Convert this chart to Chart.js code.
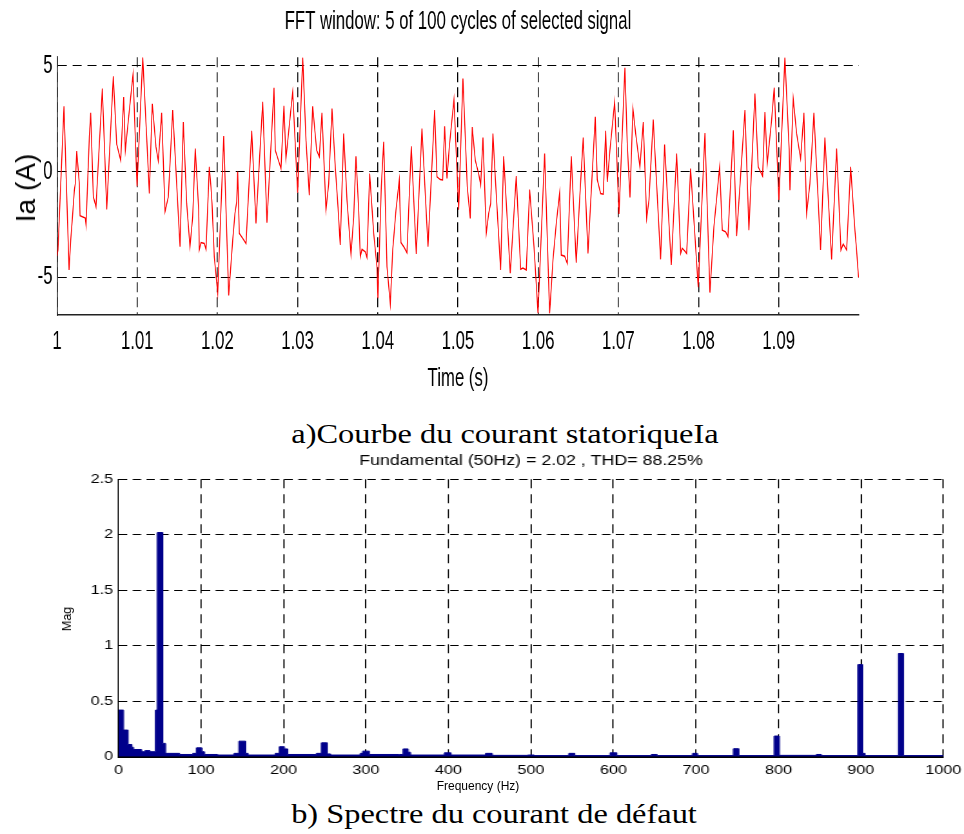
<!DOCTYPE html>
<html>
<head>
<meta charset="utf-8">
<script src="https://cdn.jsdelivr.net/npm/chart.js@4.4.1/dist/chart.umd.min.js"></script>
<style>
  html, body { margin: 0; padding: 0; background: #fff; }
  #page { position: relative; width: 964px; height: 834px; overflow: hidden; background: #fff; }
  canvas { position: absolute; left: 0; }
  .legende { position: absolute; width: 964px; text-align: center; line-height: 30px;
             font-family: "Liberation Serif", "Times New Roman", serif; font-size: 27px; color: #000;
             transform: scaleX(1.2); transform-origin: 50% 50%; white-space: nowrap; }
  .titre-y { position: absolute; white-space: nowrap; color: #000;
             font-family: "Liberation Sans", Arial, sans-serif;
             transform: translate(-50%, -50%) rotate(-90deg); }
  .titre-x { position: absolute; white-space: nowrap; color: #000;
             font-family: "Liberation Sans", Arial, sans-serif;
             transform: translate(-50%, -50%); }
</style>
</head>
<body>
<div id="page">
  <canvas id="courant" width="1495" height="400" style="top:0px;width:964px;height:400px"></canvas>
  <div class="titre-y" style="left:26px;top:188px;font-size:28px">Ia (A)</div>
  <div class="legende" style="left:23px;top:419px">a)Courbe du courant statoriqueIa</div>
  <canvas id="spectre" width="803" height="350" style="top:448px;width:964px;height:350px"></canvas>
  <div class="titre-y" style="left:67px;top:619px;font-size:12.5px">Mag</div>
  <div class="titre-x" style="left:478px;top:786px;font-size:12px">Frequency (Hz)</div>
  <div class="legende" style="left:12px;top:799px">b) Spectre du courant de défaut</div>
</div>
<script>
const tempsS = [
  1.00000, 1.00012, 1.00087, 1.00150, 1.00171, 1.00196, 1.00216, 1.00228, 1.00246, 1.00278,
  1.00287, 1.00353, 1.00362, 1.00403, 1.00420, 1.00453, 1.00486, 1.00565, 1.00620, 1.00702,
  1.00744, 1.00794, 1.00832, 1.00852, 1.00898, 1.00948, 1.00998, 1.01069, 1.01118, 1.01151,
  1.01188, 1.01234, 1.01263, 1.01305, 1.01347, 1.01388, 1.01443, 1.01534, 1.01575, 1.01617,
  1.01658, 1.01692, 1.01724, 1.01767, 1.01774, 1.01796, 1.01837, 1.01858, 1.01899, 1.01920,
  1.01933, 1.01961, 1.02004, 1.02079, 1.02141, 1.02191, 1.02219, 1.02241, 1.02253, 1.02273,
  1.02315, 1.02357, 1.02428, 1.02481, 1.02565, 1.02618, 1.02706, 1.02722, 1.02793, 1.02830,
  1.02855, 1.02939, 1.03001, 1.03064, 1.03105, 1.03146, 1.03188, 1.03238, 1.03271, 1.03304,
  1.03354, 1.03388, 1.03429, 1.03470, 1.03504, 1.03532, 1.03575, 1.03616, 1.03666, 1.03700,
  1.03728, 1.03762, 1.03782, 1.03803, 1.03844, 1.03865, 1.03899, 1.03949, 1.03990, 1.04002,
  1.04044, 1.04074, 1.04115, 1.04156, 1.04186, 1.04227, 1.04268, 1.04289, 1.04323, 1.04364,
  1.04418, 1.04480, 1.04551, 1.04626, 1.04709, 1.04738, 1.04779, 1.04809, 1.04834, 1.04863,
  1.04892, 1.04950, 1.05009, 1.05062, 1.05116, 1.05153, 1.05178, 1.05216, 1.05258, 1.05283,
  1.05312, 1.05353, 1.05383, 1.05408, 1.05436, 1.05465, 1.05532, 1.05570, 1.05652, 1.05727,
  1.05782, 1.05810, 1.05852, 1.05894, 1.05948, 1.05976, 1.05998, 1.06081, 1.06143, 1.06185,
  1.06226, 1.06268, 1.06288, 1.06330, 1.06363, 1.06413, 1.06475, 1.06517, 1.06562, 1.06621,
  1.06712, 1.06737, 1.06779, 1.06812, 1.06842, 1.06862, 1.06895, 1.06954, 1.07008, 1.07082,
  1.07111, 1.07145, 1.07182, 1.07216, 1.07269, 1.07311, 1.07353, 1.07382, 1.07435, 1.07527,
  1.07577, 1.07660, 1.07727, 1.07777, 1.07797, 1.07818, 1.07852, 1.07901, 1.07996, 1.08080,
  1.08142, 1.08192, 1.08263, 1.08296, 1.08338, 1.08367, 1.08433, 1.08475, 1.08579, 1.08628,
  1.08703, 1.08744, 1.08799, 1.08828, 1.08857, 1.08911, 1.08944, 1.09002, 1.09077, 1.09131,
  1.09140, 1.09181, 1.09223, 1.09273, 1.09314, 1.09348, 1.09389, 1.09439, 1.09522, 1.09576,
  1.09660, 1.09722, 1.09776, 1.09804, 1.09847, 1.09897, 1.09950, 1.09971, 1.09995
];
const courantA = [
  -4.0, -3.7, 3.08, -4.65, -3.24, -1.98, -0.88, -0.57, 0.96, -0.57,
  -2.09, -2.2, -2.53, 1.64, 2.77, -1.2, -1.67, 3.92, -1.79, 4.5,
  1.3, 0.53, 3.52, 1.0, 2.74, 4.6, -0.69, 5.4, 1.64, -1.04,
  3.2, 1.16, 0.5, 2.77, -1.9, -1.2, 2.9, -3.55, 2.34, -1.51,
  -3.55, -2.14, 1.08, -1.82, -3.7, -3.36, -3.4, -3.68, 0.22, -0.72,
  -1.51, -4.03, -5.75, 1.67, -5.86, -3.24, -1.98, -1.42, 0.0, -2.92,
  -3.15, -3.4, 1.92, -2.45, 3.29, -2.42, 3.95, 1.0, 0.14, 3.1,
  0.61, 3.76, -1.0, 5.38, 1.48, -1.12, 3.08, 1.0, 0.7, 2.77,
  -1.82, -0.57, 2.97, 0.22, -1.67, -3.47, 1.79, -1.35, -3.9, -2.14,
  0.72, -1.82, -4.03, -3.68, -3.79, -4.06, -0.1, -2.92, -4.5, -5.99,
  -0.72, 1.4, -4.5, -6.26, -3.74, -1.82, -0.41, -3.36, -3.55, -3.84,
  1.19, -3.9, 2.03, -3.55, 2.9, -0.25, -0.38, -0.4, 2.14, -0.33,
  1.16, 3.4, -1.8, 4.39, -0.72, -2.22, 2.1, 0.53, -0.1, -0.64,
  1.6, -2.92, -1.98, -1.51, 1.79, -0.25, -4.65, 0.72, -4.81, -0.22,
  -4.62, -4.56, -4.65, -0.85, -3.55, -5.28, -6.7, 0.85, -6.7, -4.18,
  -2.45, -1.0, -3.95, -4.0, -4.34, 0.72, -4.31, -1.35, 1.6, -3.87,
  2.58, -0.38, -1.04, -1.07, 1.92, -0.49, 1.0, 3.29, -2.01, 4.9,
  1.32, -1.23, 2.97, 1.79, 0.22, 2.34, -2.22, -1.35, 2.45, -4.15,
  1.27, -4.42, 0.85, -3.87, -3.63, -3.71, -3.87, 0.14, -5.47, 1.82,
  -5.72, -2.61, 0.22, -2.77, -2.85, -3.08, 1.95, -3.05, 2.9, -2.77,
  3.68, 0.22, -0.22, 2.81, 0.38, 2.42, 3.96, -1.35, 5.38, 1.0,
  -0.88, 3.44, 1.8, 0.61, 2.77, -1.98, -0.57, 2.77, -3.71, 1.6,
  -4.15, 1.08, -3.71, -3.43, -3.71, 0.22, -2.77, -3.71, -5.0
];
const ticksTemps = [1, 1.01, 1.02, 1.03, 1.04, 1.05, 1.06, 1.07, 1.08, 1.09];
const ticksCourant = [-5, 0, 5];

// Spectre : debut de chaque palier (Hz) et amplitude du palier
const freqHz = [
  0, 6, 11.5, 16, 18, 28, 32, 38, 45, 47,
  53.5, 57, 74, 90, 94.5, 101, 104, 120, 140, 146,
  154, 157, 190, 195, 201, 205, 240, 246, 253, 257,
  293, 296, 304, 340, 345, 351, 354, 395, 403, 445,
  453, 496, 504, 546, 553, 596, 604, 646, 653, 696,
  702, 745.5, 752, 795, 801, 846, 852, 896.5, 902, 905,
  945.5, 951.5, 1000
];
const magSpectre = [
  0.42, 0.24, 0.11, 0.085, 0.065, 0.045, 0.055, 0.045, 0.42, 2.02,
  0.12, 0.03, 0.02, 0.03, 0.08, 0.045, 0.02, 0.015, 0.03, 0.14,
  0.03, 0.015, 0.03, 0.09, 0.07, 0.02, 0.03, 0.125, 0.025, 0.015,
  0.03, 0.05, 0.02, 0.02, 0.07, 0.04, 0.015, 0.035, 0.015, 0.03,
  0.012, 0.015, 0.01, 0.03, 0.01, 0.035, 0.01, 0.02, 0.01, 0.03,
  0.01, 0.072, 0.01, 0.186, 0.012, 0.02, 0.01, 0.83, 0.03, 0.01,
  0.93, 0.01, 0.01
];
const ticksFreq = [0, 100, 200, 300, 400, 500, 600, 700, 800, 900, 1000];
const ticksMag = [0, 0.5, 1, 1.5, 2, 2.5];

const policeSans = 'Liberation Sans, Arial, sans-serif';

// fige la taille d'un axe et ignore la marge réservée aux étiquettes extrêmes
const figerAxe = (prop, taille) => s => {
  s[prop] = taille;
  s.paddingLeft = 0;
  s.paddingRight = 0;
};

// ---- Graphique a) : courant statorique (canvas comprime horizontalement) ----
new Chart(document.getElementById('courant'), {
  type: 'line',
  data: {
    datasets: [{
      data: tempsS.map((t, i) => ({ x: t, y: courantA[i] })),
      borderColor: '#ff0000',
      borderWidth: 1.5,
      pointRadius: 0,
      tension: 0,
      fill: false
    }]
  },
  options: {
    responsive: false,
    animation: false,
    devicePixelRatio: 1,
    layout: { padding: { left: 0, right: 163, top: 0, bottom: 0 } },
    plugins: {
      legend: { display: false },
      tooltip: { enabled: false },
      title: {
        display: true,
        fullSize: false,
        text: 'FFT window: 5 of 100 cycles of selected signal',
        color: '#000',
        font: { family: policeSans, size: 26, weight: 'normal' },
        padding: { top: 6, bottom: 20 }
      }
    },
    scales: {
      x: {
        type: 'linear',
        min: 1,
        max: 1.1,
        afterBuildTicks: s => { s.ticks = ticksTemps.map(v => ({ value: v })); },
        afterFit: figerAxe('height', 85),
        grid: { color: '#000', lineWidth: 1.5, drawTicks: false },
        border: { display: true, color: '#222', width: 1.6, dash: [10, 5] },
        ticks: {
          color: '#000', padding: 11, maxRotation: 0,
          font: { family: policeSans, size: 26 },
          callback: v => String(+v.toFixed(2))
        },
        title: {
          display: true, text: 'Time (s)', color: '#000',
          font: { family: policeSans, size: 26 },
          padding: { top: 0, bottom: 6 }
        }
      },
      y: {
        min: -6.78,
        max: 5.4,
        afterBuildTicks: s => { s.ticks = ticksCourant.map(v => ({ value: v })); },
        afterFit: s => { s.width = 88.4; },
        grid: { color: '#000', lineWidth: 1, drawTicks: false },
        border: { display: true, color: '#222', width: 1.6, dash: [14, 9] },
        ticks: {
          color: '#000', padding: 7,
          font: { family: policeSans, size: 26 }
        }
      }
    }
  }
});

// ---- Graphique b) : spectre FFT ----
new Chart(document.getElementById('spectre'), {
  type: 'line',
  data: {
    datasets: [{
      data: freqHz.map((f, i) => ({ x: f, y: magSpectre[i] })),
      stepped: true,
      borderColor: 'rgb(0, 0, 139)',
      backgroundColor: 'rgb(0, 0, 139)',
      borderWidth: 1,
      pointRadius: 0,
      fill: 'origin'
    }]
  },
  options: {
    responsive: false,
    animation: false,
    devicePixelRatio: 1,
    layout: { padding: { left: 0, right: 17.2, top: 0, bottom: 0 } },
    plugins: {
      legend: { display: false },
      tooltip: { enabled: false },
      title: {
        display: true,
        fullSize: false,
        text: 'Fundamental (50Hz) = 2.02 , THD= 88.25%',
        color: '#000',
        font: { family: policeSans, size: 14.8, weight: 'normal' },
        padding: { top: 4, bottom: 9.5 }
      }
    },
    scales: {
      x: {
        type: 'linear',
        min: 0,
        max: 1000,
        afterBuildTicks: s => { s.ticks = ticksFreq.map(v => ({ value: v })); },
        afterFit: figerAxe('height', 41.3),
        grid: { color: '#000', lineWidth: 1, drawTicks: false },
        border: { display: true, color: '#000', width: 2, dash: [9, 6] },
        ticks: {
          color: '#000', padding: 5, maxRotation: 0,
          font: { family: policeSans, size: 13.5 },
          callback: v => String(v)
        }
      },
      y: {
        min: 0,
        max: 2.5,
        afterBuildTicks: s => { s.ticks = ticksMag.map(v => ({ value: v })); },
        afterFit: s => { s.width = 98.75; },
        grid: { color: '#000', lineWidth: 1, drawTicks: false },
        border: { display: true, color: '#000', width: 1, dash: [7, 4.5] },
        ticks: {
          color: '#000', padding: 4.5,
          font: { family: policeSans, size: 13.5 },
          callback: v => String(v)
        }
      }
    }
  }
});
</script>
</body>
</html>
